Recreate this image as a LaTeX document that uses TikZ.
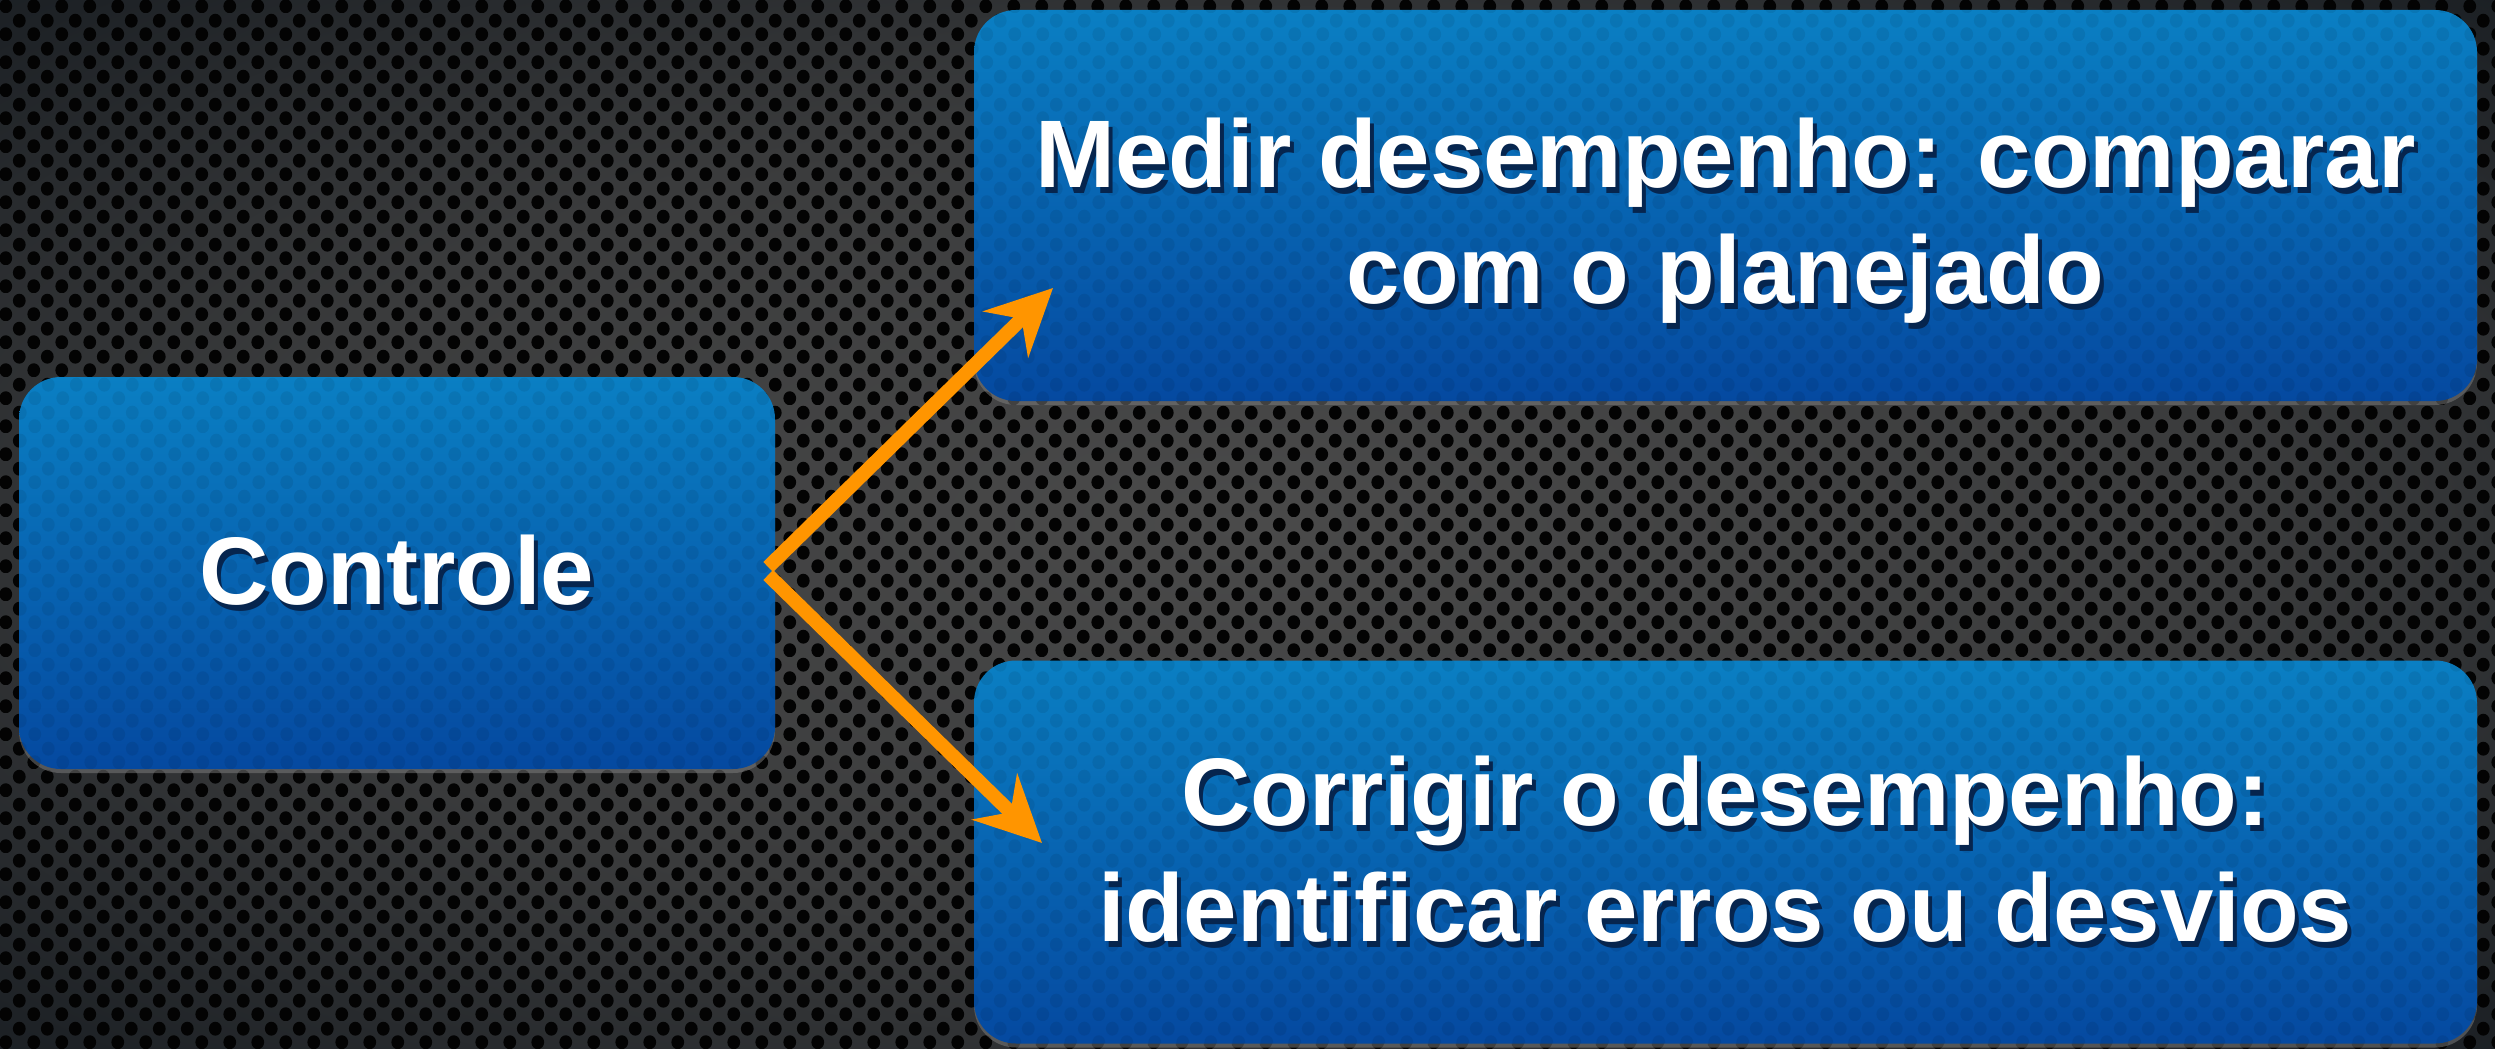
\documentclass[tikz,border=0pt]{standalone}
\usepackage{fontspec}
\setmainfont{Liberation Sans}
\usetikzlibrary{arrows.meta,shadows,patterns}
\definecolor{bgc}{HTML}{4A4A4A}
\definecolor{bgm}{HTML}{3A3B3C}
\definecolor{bgd}{HTML}{1E2226}
\definecolor{bge}{HTML}{081018}
\definecolor{holec}{HTML}{030303}
\definecolor{boxtop}{HTML}{0A7FC3}
\definecolor{boxbot}{HTML}{0549A0}
\definecolor{arrowc}{HTML}{FF9500}
\definecolor{shadowc}{HTML}{06254E}
\pgfdeclareradialshading{vig}{\pgfpoint{0bp}{0bp}}{color(0bp)=(bgc); color(20bp)=(bgm); color(34bp)=(bgd); color(48bp)=(bge); color(75bp)=(bge)}
\pgfdeclarepatternformonly{holes}{\pgfpointorigin}{\pgfpoint{28pt}{28pt}}{\pgfpoint{28pt}{28pt}}{%
  \pgfpathellipse{\pgfpoint{7pt}{7pt}}{\pgfpoint{6.6pt}{0pt}}{\pgfpoint{0pt}{7.2pt}}%
  \pgfpathellipse{\pgfpoint{21pt}{21pt}}{\pgfpoint{6.6pt}{0pt}}{\pgfpoint{0pt}{7.2pt}}%
  \pgfusepath{fill}}
\newcommand\shd[1]{\leavevmode\rlap{\hspace{4pt}\raisebox{-6pt}{\color{shadowc}#1}}#1}
\begin{document}
\begin{tikzpicture}[x=1pt,y=-1pt,
  box/.style={rounded corners=42pt, top color=boxtop, bottom color=boxbot, draw=none,
    inner sep=0pt, text=white, align=center,
    font=\bfseries\fontsize{96}{116}\selectfont,
    drop shadow={opacity=0.5, shadow xshift=0pt, shadow yshift=-4pt},
    postaction={pattern=holes, pattern color=black, fill opacity=0.07}},
  arr/.style={draw=arrowc, line width=14pt, -{Stealth[length=66pt,width=64pt,inset=22pt]}}
]
\useasboundingbox (0,0) rectangle (2495,1049);
\shade[shading=vig] (0,0) rectangle (2495,1049);
\fill[pattern=holes, pattern color=holec] (0,0) rectangle (2495,1049);

\node[box, minimum width=756pt, minimum height=392pt] (ctrl) at (397,573) {\shd{Controle}};
\node[box, minimum width=1503pt, minimum height=391pt, text depth=0pt] (medir) at (1725.5,205.5)
  {\raisebox{-10pt}{\shd{Medir desempenho: comparar}}\\\raisebox{-10pt}{\shd{com o planejado}}};
\node[box, minimum width=1503pt, minimum height=383pt] (corr) at (1725.5,852)
  {\shd{Corrigir o desempenho:}\\\shd{identificar erros ou desvios}};

\coordinate (tipA) at (1053,288);
\coordinate (tipB) at (1042,843);
\draw[arr] ([shift={(-7,-6)}]ctrl.east) -- (tipA);
\draw[arr] ([shift={(-7,2)}]ctrl.east) -- (tipB);
\end{tikzpicture}
\end{document}
